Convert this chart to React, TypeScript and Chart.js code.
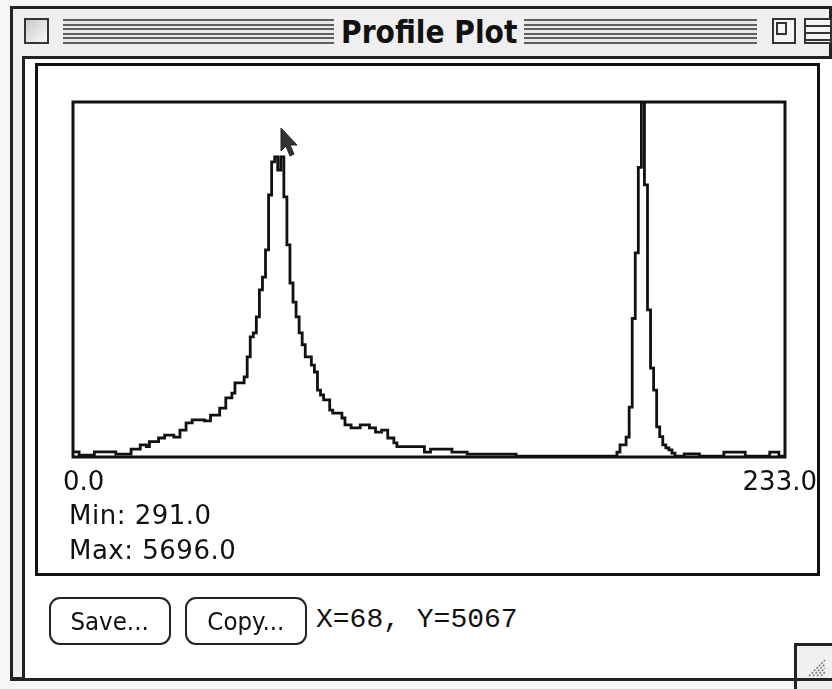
import React, { useEffect, useRef } from "react";
import { Chart, registerables } from "chart.js";

Chart.register(...registerables);

// Profile values, one per pixel index 0..233
const profileValues: number[] = [
  370, 370, 370, 320, 320, 320, 320, 320, 370, 370,
  370, 370, 370, 370, 370, 335, 335, 335, 335, 335,
  410, 410, 410, 475, 475, 450, 525, 525, 525, 580,
  580, 625, 625, 625, 595, 595, 700, 700, 810, 810,
  855, 855, 855, 855, 840, 840, 930, 930, 930, 1035,
  1035, 1190, 1190, 1265, 1420, 1420, 1420, 1510, 1815, 2120,
  2180, 2425, 2835, 3030, 3445, 4280, 4785, 4860, 4660, 4860,
  4250, 3520, 2940, 2650, 2425, 2180, 2000, 1815, 1815, 1690,
  1585, 1310, 1235, 1160, 1160, 1005, 960, 960, 960, 885,
  780, 780, 735, 735, 735, 780, 780, 780, 735, 735,
  670, 670, 700, 700, 580, 580, 505, 450, 450, 450,
  450, 450, 450, 450, 450, 450, 365, 365, 410, 410,
  410, 410, 410, 410, 410, 365, 365, 365, 365, 365,
  335, 335, 335, 335, 335, 335, 335, 335, 335, 335,
  335, 335, 335, 335, 335, 335, 305, 305, 305, 305,
  305, 305, 305, 305, 305, 305, 305, 305, 305, 305,
  305, 305, 305, 305, 305, 305, 305, 305, 305, 305,
  305, 305, 305, 305, 305, 305, 305, 305, 305, 365,
  475, 475, 595, 1050, 2400, 3400, 4700, 5696, 4435, 2530,
  1645, 1310, 750, 600, 475, 430, 400, 350, 305, 305,
  305, 340, 340, 340, 340, 340, 305, 305, 305, 305,
  305, 305, 305, 305, 365, 365, 365, 365, 365, 365,
  365, 305, 305, 305, 305, 305, 305, 305, 305, 365,
  365, 365, 305, 305,
];

const xMin = 0;
const xMax = 233;
const yMin = 291;
const yMax = 5696;

const xTickLabels = ["0.0", "233.0"];
const statLabels = ["Min: 291.0", "Max: 5696.0"];
const titleText = "Profile Plot";
const buttonLabels = ["Save...", "Copy..."];
const cursorReadout = "X=68, Y=5067";

const sans = '"DejaVu Sans", "Noto Sans", sans-serif';

const boxPlugin = {
  id: "plotBox",
  afterDraw(chart: any) {
    const { ctx, chartArea } = chart;
    ctx.save();
    ctx.strokeStyle = "#111";
    ctx.lineWidth = 3;
    ctx.strokeRect(chartArea.left, chartArea.top, chartArea.right - chartArea.left, chartArea.bottom - chartArea.top);
    ctx.restore();
  },
};

function ProfileChart() {
  const ref = useRef<HTMLCanvasElement | null>(null);
  useEffect(() => {
    if (!ref.current) return;
    const points = profileValues.map((v, i) => ({ x: i, y: v }));
    const chart = new Chart(ref.current, {
      type: "line",
      data: {
        datasets: [
          {
            data: points,
            borderColor: "#111",
            borderWidth: 2.8,
            pointRadius: 0,
            stepped: "after",
            fill: false,
          },
        ],
      },
      options: {
        responsive: false,
        animation: false,
        events: [],
        layout: { padding: { left: 13, top: 10, right: 15, bottom: 13 } },
        plugins: { legend: { display: false }, tooltip: { enabled: false } },
        scales: {
          x: { type: "linear", min: xMin, max: xMax, display: false },
          y: { type: "linear", min: yMin, max: yMax, display: false },
        },
      },
      plugins: [boxPlugin],
    });
    return () => chart.destroy();
  }, []);
  return (
    <canvas
      ref={ref}
      width={740}
      height={378}
      style={{ position: "absolute", left: 60, top: 92, width: 740, height: 378 }}
    />
  );
}

function Stripes({ left, width }: { left: number; width: number }) {
  return (
    <div
      style={{
        position: "absolute",
        left,
        top: 19,
        width,
        height: 25,
        background:
          "repeating-linear-gradient(to bottom, #5e5e5e 0px, #5e5e5e 2px, #e8e8e8 2px, #e8e8e8 4.6px)",
      }}
    />
  );
}

function Button({ left, width, label }: { left: number; width: number; label: string }) {
  return (
    <div
      style={{
        position: "absolute",
        left,
        top: 597,
        width,
        height: 48,
        border: "2px solid #222",
        borderRadius: 11,
        boxSizing: "border-box",
        display: "flex",
        alignItems: "center",
        justifyContent: "center",
        fontFamily: sans,
        fontSize: 25,
        color: "#111",
        background: "#fff",
        whiteSpace: "nowrap",
      }}
    >
      <span style={{ display: "inline-block", transform: "scaleX(0.92)" }}>{label}</span>
    </div>
  );
}

const labelStyle: React.CSSProperties = {
  position: "absolute",
  fontFamily: sans,
  fontSize: 26,
  lineHeight: "30px",
  color: "#111",
  whiteSpace: "pre",
};

export default function App() {
  useEffect(() => {
    document.body.style.margin = "0";
  }, []);
  return (
    <div
      style={{
        position: "fixed",
        left: 0,
        top: 0,
        width: 832,
        height: 689,
        background: "#f6f6f6",
        overflow: "hidden",
      }}
    >
      {/* outer window */}
      <div
        style={{
          position: "absolute",
          left: 10,
          top: 6,
          width: 822,
          height: 674,
          border: "3px solid #222",
          boxSizing: "border-box",
          background: "#efefef",
        }}
      />
      {/* close box */}
      <div
        style={{
          position: "absolute",
          left: 24,
          top: 18,
          width: 25,
          height: 26,
          border: "2px solid #333",
          boxSizing: "border-box",
          background: "linear-gradient(135deg, #c8c8c8, #fafafa)",
        }}
      />
      <Stripes left={63} width={271} />
      <Stripes left={524} width={233} />
      <div
        style={{
          position: "absolute",
          left: 334,
          width: 190,
          top: 12,
          height: 40,
          display: "flex",
          justifyContent: "center",
          alignItems: "center",
          fontFamily: sans,
          fontWeight: "bold",
          fontSize: 32,
          lineHeight: "40px",
          color: "#111",
          background: "#efefef",
          whiteSpace: "nowrap",
        }}
      >
        <span style={{ display: "inline-block", transform: "scaleX(0.88)", whiteSpace: "nowrap" }}>{titleText}</span>
      </div>
      {/* zoom + collapse boxes */}
      <div
        style={{
          position: "absolute",
          left: 772,
          top: 18,
          width: 24,
          height: 26,
          border: "2px solid #333",
          boxSizing: "border-box",
          background: "#f4f4f4",
        }}
      >
        <div style={{ position: "absolute", left: 2, top: 2, width: 11, height: 13, border: "2px solid #333", boxSizing: "border-box" }} />
      </div>
      <div
        style={{
          position: "absolute",
          left: 804,
          top: 18,
          width: 28,
          height: 26,
          border: "2px solid #333",
          boxSizing: "border-box",
          background:
            "repeating-linear-gradient(to bottom, #f4f4f4 0px, #f4f4f4 5px, #333 5px, #333 7px)",
        }}
      />
      {/* content area */}
      <div
        style={{
          position: "absolute",
          left: 22,
          top: 56,
          width: 810,
          height: 623,
          borderLeft: "3px solid #222",
          borderTop: "3px solid #222",
          boxSizing: "border-box",
          background: "#fff",
        }}
      />
      {/* inner frame */}
      <div
        style={{
          position: "absolute",
          left: 35,
          top: 63,
          width: 785,
          height: 513,
          border: "3px solid #111",
          boxSizing: "border-box",
          background: "#fff",
        }}
      />
      <ProfileChart />
      {/* cursor arrow */}
      <svg
        style={{ position: "absolute", left: 280, top: 127 }}
        width={22}
        height={34}
        viewBox="0 0 22 34"
      >
        <polygon
          points="1,1 1,24 6,19 10,29 14,27 10,18 17,18"
          fill="#333"
          stroke="#222"
          strokeWidth={1}
        />
      </svg>
      {/* axis end labels */}
      <div style={{ ...labelStyle, left: 63, top: 466 }}>{xTickLabels[0]}</div>
      <div style={{ ...labelStyle, right: 832 - 817, top: 466 }}>{xTickLabels[1]}</div>
      <div style={{ ...labelStyle, left: 69, top: 500, letterSpacing: 0.5 }}>{statLabels[0]}</div>
      <div style={{ ...labelStyle, left: 69, top: 535, letterSpacing: 0.5 }}>{statLabels[1]}</div>
      {/* buttons */}
      <Button left={49} width={122} label={buttonLabels[0]} />
      <Button left={185} width={122} label={buttonLabels[1]} />
      <div
        style={{
          position: "absolute",
          left: 316,
          top: 604,
          fontFamily: '"Liberation Mono", "DejaVu Sans Mono", monospace',
          fontSize: 28,
          lineHeight: "32px",
          color: "#111",
          whiteSpace: "pre",
        }}
      >
        {cursorReadout}
      </div>
      {/* grow box */}
      <div
        style={{
          position: "absolute",
          left: 794,
          top: 643,
          width: 40,
          height: 46,
          borderLeft: "3px solid #222",
          borderTop: "3px solid #222",
          boxSizing: "border-box",
          background: "#f0f0f0",
        }}
      >
        <svg width={36} height={40} style={{ position: "absolute", left: 0, top: 0 }}>
          {[0, 1, 2, 3].map((k) => (
            <line
              key={k}
              x1={12 + k * 4}
              y1={30}
              x2={28}
              y2={14 + k * 4}
              stroke="#777"
              strokeWidth={1.5}
              strokeDasharray="2,1.5"
            />
          ))}
        </svg>
      </div>
      {/* bottom window edge */}
      <div style={{ position: "absolute", left: 10, top: 678, width: 822, height: 3, background: "#222" }} />
    </div>
  );
}
